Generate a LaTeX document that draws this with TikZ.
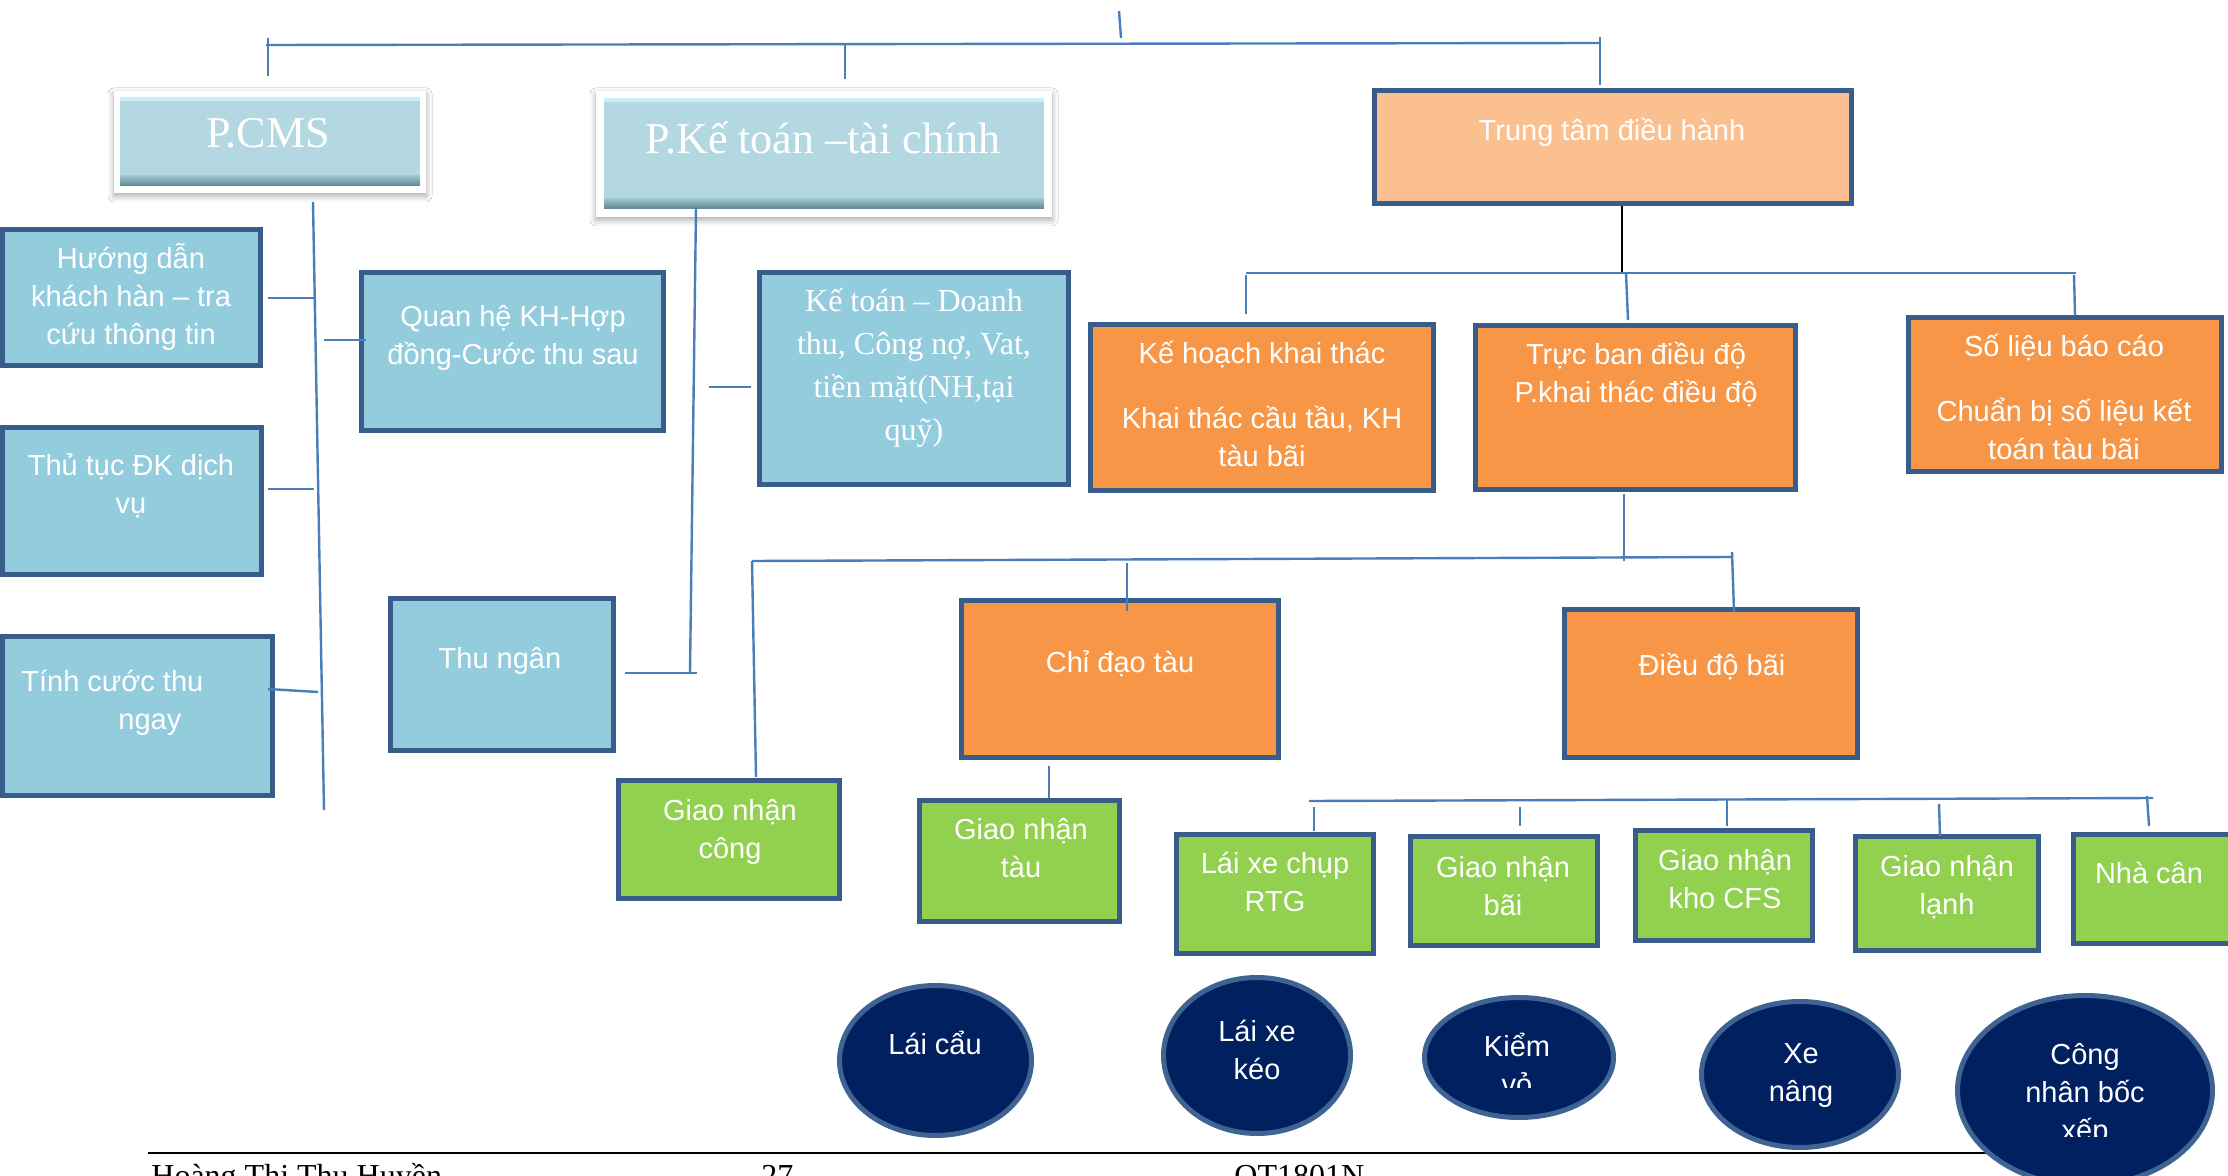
\documentclass[tikz,border=0pt]{standalone}
\usepackage{fontspec}
\setmainfont{Liberation Sans}
\newfontfamily\tnr{Liberation Serif}
\usetikzlibrary{shapes.geometric,shadows.blur}
\definecolor{bluefill}{HTML}{93CDDD}
\definecolor{bord}{HTML}{385D8A}
\definecolor{orfill}{HTML}{F79646}
\definecolor{lorfill}{HTML}{FAC090}
\definecolor{grfill}{HTML}{92D050}
\definecolor{navy}{HTML}{002060}
\definecolor{ellbord}{HTML}{3F6494}
\definecolor{connc}{HTML}{4A7EBB}
\definecolor{hdrfill}{HTML}{B3D8E2}
\definecolor{hdrtop}{HTML}{CBEEF6}
\definecolor{hdrmid}{HTML}{9CC3CC}
\definecolor{hdrbot}{HTML}{5A8792}
% style, name, x1, y1, x2, y2 (outer edges, px)
\newcommand\mkbox[6]{\node[#1,minimum width={(#5-#3)*0.5pt-2.5pt},minimum height={(#6-#4)*0.5pt-2.5pt}] (#2) at ({(#3+#5)/2},{(#4+#6)/2}) {};}
\newcommand\mkell[6]{\node[#1,minimum width={(#5-#3)*0.5pt-2.5pt},minimum height={(#6-#4)*0.5pt-2.5pt}] (#2) at ({(#3+#5)/2},{(#4+#6)/2}) {};}
% name, start, end
\newcommand\seg[4][conn]{\coordinate (#2a) at (#3); \coordinate (#2b) at (#4); \draw[#1] (#2a) -- (#2b);}
\begin{document}
\begin{tikzpicture}[x=0.5pt,y=-0.5pt,
 conn/.style={draw=connc,line width=1.2pt},
 blackconn/.style={draw=black,line width=1.2pt},
 bluebox/.style={rectangle,draw=bord,line width=2.5pt,fill=bluefill,inner sep=0pt,outer sep=0pt},
 orbox/.style={bluebox,fill=orfill},
 lorbox/.style={bluebox,fill=lorfill},
 grbox/.style={bluebox,fill=grfill},
 navyell/.style={ellipse,draw=ellbord,line width=2.5pt,fill=navy,inner sep=0pt,outer sep=0pt},
 hdrframe/.style={rectangle,fill=white,inner sep=0pt,outer sep=0pt,blur shadow={shadow xshift=0pt,shadow yshift=-1.5pt,shadow blur radius=3pt,shadow opacity=35}},
 lbl/.style={text=white,align=center,inner sep=0pt,font=\fontsize{14.5}{19}\selectfont},
 serlbl/.style={lbl,font=\tnr\fontsize{16}{21.5}\selectfont},
 hdrlbl/.style={lbl,font=\tnr\fontsize{22}{26}\selectfont},
 foot/.style={text=black,inner sep=0pt,anchor=base west,font=\tnr\fontsize{16}{19}\selectfont}
]
\useasboundingbox (0,0) rectangle (2228,1176);
\clip (0,0) rectangle (2228,1176);
\fill[white] (0,0) rectangle (2228,1176);

% ---- header boxes (bevelled) ----
\node[hdrframe,minimum width=156pt,minimum height=51pt] (pcms) at (270,142) {};
\fill[hdrfill] (120,97) rectangle (420,186);
\fill[hdrtop] (120,97) rectangle (420,101);
\shade[top color=hdrmid,bottom color=hdrbot] (120,176) rectangle (420,186);
\node[hdrlbl] (pcms-t) at (268,137) {\strut P.CMS\strut};

\node[hdrframe,minimum width=228pt,minimum height=63pt] (pkt) at (824,154) {};
\fill[hdrfill] (604,98) rectangle (1044,209);
\fill[hdrtop] (604,98) rectangle (1044,102);
\shade[top color=hdrmid,bottom color=hdrbot] (604,199) rectangle (1044,209);
\node[hdrlbl] (pkt-t) at (823,143) {\strut P.Kế toán –tài chính\strut};

% ---- blue boxes ----
\mkbox{bluebox}{hd}{0}{227}{263}{368}
\node[lbl] (hd-t) at (131,299) {\strut Hướng dẫn\\khách hàn – tra\\cứu thông tin\strut};
\mkbox{bluebox}{tt}{0}{425}{264}{577}
\node[lbl] (tt-t) at (131,487) {\strut Thủ tục ĐK dịch\\vụ\strut};
\mkbox{bluebox}{tc}{0}{634}{275}{798}
\node[lbl,align=left,anchor=west] (tc-t) at (21,703) {\strut Tính cước thu\\\hspace*{48.5pt}ngay\strut};
\mkbox{bluebox}{qh}{359}{270}{666}{433}
\node[lbl] (qh-t) at (513,338) {\strut Quan hệ KH-Hợp\\đồng-Cước thu sau\strut};
\mkbox{bluebox}{kt}{757}{270}{1071}{487}
\node[serlbl] (kt-t) at (914,367) {\strut Kế toán – Doanh\\thu, Công nợ, Vat,\\tiền mặt(NH,tại\\quỹ)\strut};
\mkbox{bluebox}{tn}{388}{596}{616}{753}
\node[lbl] (tn-t) at (500,661) {\strut Thu ngân\strut};

% ---- orange boxes ----
\mkbox{lorbox}{ttdh}{1372}{88}{1854}{206}
\node[lbl] (ttdh-t) at (1612,133) {\strut Trung tâm điều hành\strut};
\mkbox{orbox}{kh}{1088}{322}{1436}{493}
\node[lbl] (kh-t) at (1262,407) {\strut Kế hoạch khai thác\\[13.5pt]Khai thác cầu tầu, KH\\tàu bãi\strut};
\mkbox{orbox}{trb}{1473}{323}{1798}{492}
\node[lbl] (trb-t) at (1636,376) {\strut Trực ban điều độ\\P.khai thác điều độ\strut};
\mkbox{orbox}{sl}{1906}{315}{2224}{474}
\node[lbl] (sl-t) at (2064,400) {\strut Số liệu báo cáo\\[13.5pt]Chuẩn bị số liệu kết\\toán tàu bãi\strut};
\mkbox{orbox}{cd}{959}{598}{1281}{760}
\node[lbl] (cd-t) at (1120,665) {\strut Chỉ đạo tàu\strut};
\mkbox{orbox}{ddb}{1562}{607}{1860}{760}
\node[lbl] (ddb-t) at (1712,668) {\strut Điều độ bãi\strut};

% ---- green boxes ----
\mkbox{grbox}{gnc}{616}{778}{842}{901}
\node[lbl] (gnc-t) at (730,832) {\strut Giao nhận\\công\strut};
\mkbox{grbox}{gnt}{917}{798}{1122}{924}
\node[lbl] (gnt-t) at (1021,851) {\strut Giao nhận\\tàu\strut};
\mkbox{grbox}{rtg}{1174}{832}{1376}{956}
\node[lbl] (rtg-t) at (1275,885) {\strut Lái xe chụp\\RTG\strut};
\mkbox{grbox}{gnb}{1408}{834}{1600}{948}
\node[lbl] (gnb-t) at (1503,889) {\strut Giao nhận\\bãi\strut};
\mkbox{grbox}{cfs}{1633}{828}{1815}{943}
\node[lbl] (cfs-t) at (1725,882) {\strut Giao nhận\\kho CFS\strut};
\mkbox{grbox}{gnl}{1853}{834}{2041}{953}
\node[lbl] (gnl-t) at (1947,888) {\strut Giao nhận\\lạnh\strut};
\mkbox{grbox}{nc}{2071}{832}{2250}{946}
\node[lbl] (nc-t) at (2149,876) {\strut Nhà cân\strut};

% ---- footer rule ----
\seg[blackconn]{ft}{148,1153}{2000,1153}

% ---- ellipses ----
\mkell{navyell}{lc}{837}{983}{1034}{1138}
\node[lbl] (lc-t) at (935,1047) {\strut Lái cẩu\strut};
\mkell{navyell}{lxk}{1161}{975}{1353}{1136}
\node[lbl] (lxk-t) at (1257,1053) {\strut Lái xe\\kéo\strut};
\mkell{navyell}{kv}{1422}{995}{1616}{1120}
\begin{scope}
\clip (1420,990) rectangle (1620,1087);
\node[lbl] (kv-t) at (1517,1068) {\strut Kiểm\\vỏ\strut};
\end{scope}
\mkell{navyell}{xn}{1699}{999}{1901}{1150}
\node[lbl] (xn-t) at (1801,1075) {\strut Xe\\nâng\strut};
\mkell{navyell}{cn}{1955}{993}{2215}{1188}
\begin{scope}
\clip (1950,990) rectangle (2220,1136);
\node[lbl] (cn-t) at (2085,1095) {\strut Công\\nhân bốc\\xếp\strut};
\end{scope}

% ---- connectors ----
\seg{tb}{266,45}{1600,43}
\seg{tk}{1119,11}{1121,38}
\seg{d1}{268,38}{268,76}
\seg{d2}{845,45}{845,79}
\seg{d3}{1600,37}{1600,85}
\seg{vc}{313,202}{324,810}
\seg{b1}{268,298}{314,298}
\seg{b2}{324,340}{366,340}
\seg{b3}{268,489}{314,489}
\seg{b4}{268,689}{318,692}
\seg{vk}{696,207}{690,673}
\seg{b5}{709,387}{751,387}
\seg{b6}{625,673}{697,673}
\seg[blackconn]{tl}{1622,206}{1622,272}
\seg{ob}{1246,273}{2076,273}
\seg{o1}{1246,275}{1246,314}
\seg{o2}{1626,273}{1628,320}
\seg{o3}{2074,275}{2075,315}
\seg{o4}{1624,494}{1624,561}
\seg{mb}{752,561}{1731,557}
\seg{m1}{752,561}{756,777}
\seg{m2}{1127,563}{1127,611}
\seg{m3}{1732,552}{1734,612}
\seg{m4}{1049,766}{1049,798}
\seg{gb}{1309,801}{2153,798}
\seg{g1}{1314,807}{1314,831}
\seg{g2}{1520,807}{1520,826}
\seg{g3}{1727,800}{1727,826}
\seg{g4}{1939,804}{1940,836}
\seg{g5}{2147,796}{2149,826}

% ---- footer text ----
\node[foot] (f1) at (151,1186) {Hoàng Thị Thu Huyền};
\node[foot] (f2) at (761,1186) {27};
\node[foot] (f3) at (1234,1186) {QT1801N};
\end{tikzpicture}
\end{document}
